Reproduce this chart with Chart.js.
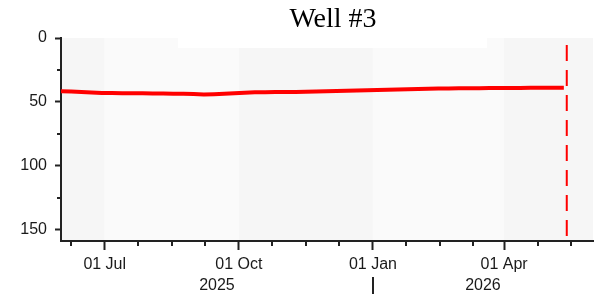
<!DOCTYPE html>
<html>
<head>
<meta charset="utf-8">
<title>Well #3</title>
<script src="https://cdn.jsdelivr.net/npm/chart.js@4.4.1/dist/chart.umd.min.js"></script>
<style>
    html, body { margin: 0; padding: 0; background: #ffffff; }
    #chartWrap { width: 604px; height: 299px; }
</style>
</head>
<body>
<div id="chartWrap"><canvas id="wellChart" width="604" height="299"></canvas></div>
<script>
// Water level readings (x = days since 01 Jun 2025, y = depth)
const sampleDays = [0, 7, 14, 21, 28, 35, 42, 49, 56, 63, 70, 77, 84, 91, 98, 105, 112,
    119, 126, 133, 140, 147, 154, 161, 168, 175, 182, 189, 196, 203, 210, 217, 224,
    231, 238, 245, 252, 259, 266, 273, 280, 287, 294, 301, 308, 315, 322, 329, 336, 343, 345];
const depthValues = [41.8, 42.0, 42.3, 42.6, 43.0, 43.0, 43.2, 43.2, 43.3, 43.4, 43.5, 43.6,
    43.7, 43.8, 44.3, 44.0, 43.6, 43.2, 42.8, 42.5, 42.4, 42.3, 42.3, 42.2, 42.1, 42.0,
    41.8, 41.6, 41.3, 41.1, 40.9, 40.7, 40.6, 40.4, 40.2, 40.0, 39.8, 39.6, 39.5, 39.4,
    39.3, 39.3, 39.2, 39.2, 39.1, 39.1, 39.0, 39.0, 39.0, 39.0, 39.0];

// Dashed "today" marker
const markerDay = 347;
const markerDepths = [5.5, 159];

// X axis ticks (days since 01 Jun 2025)
const majorTickDays = [30, 122, 214, 304];
const majorTickLabels = ['01 Jul', '01 Oct', '01 Jan', '01 Apr'];
const minorTickDays = [7, 53, 76, 99, 145, 168, 191, 237, 260, 283, 327, 350];
const yearLabels = ['2025', '2026'];
const yearBreaks = [0, 214, 365];
const quarterBreaks = [0, 30, 122, 214, 304, 365];

// Y axis ticks
const majorDepthTicks = [0, 50, 100, 150];
const minorDepthTicks = [25, 75, 125];

const chartTitle = 'Well #3';
const axisColor = '#222222';
const labelColor = '#1a1a1a';
const labelFamily = '"Liberation Sans", Arial, sans-serif';

let wellChart;

document.addEventListener('DOMContentLoaded', function() {
    initializeChart();
});

// Shaded plot background, alternating by quarter
const plotBackground = {
    id: 'plotBackground',
    beforeDraw(chart) {
        const { ctx, chartArea } = chart;
        const x = chart.scales.x;
        ctx.save();
        for (let i = 0; i < quarterBreaks.length - 1; i++) {
            const left = x.getPixelForValue(quarterBreaks[i]);
            const right = x.getPixelForValue(quarterBreaks[i + 1]);
            ctx.fillStyle = i % 2 === 0 ? '#f6f6f6' : '#fafafa';
            ctx.fillRect(left, chartArea.top, right - left, chartArea.bottom - chartArea.top);
        }
        // white box left behind the title
        ctx.fillStyle = '#ffffff';
        ctx.fillRect(178, chartArea.top, 309, 10);
        ctx.restore();
    }
};

// Title, minor tick marks and the year row under the x axis
const extraAxisMarks = {
    id: 'extraAxisMarks',
    afterDraw(chart) {
        const { ctx, chartArea } = chart;
        const x = chart.scales.x;
        const y = chart.scales.y;
        ctx.save();

        ctx.fillStyle = '#000000';
        ctx.font = '28px "Liberation Serif", "Times New Roman", serif';
        ctx.textAlign = 'center';
        ctx.textBaseline = 'alphabetic';
        ctx.fillText(chartTitle, (chartArea.left + chartArea.right) / 2 + 6, 27);

        ctx.strokeStyle = axisColor;
        ctx.lineWidth = 2;
        ctx.beginPath();
        minorTickDays.forEach(d => {
            const px = Math.round(x.getPixelForValue(d));
            ctx.moveTo(px, chartArea.bottom);
            ctx.lineTo(px, chartArea.bottom + 5);
        });
        minorDepthTicks.forEach(v => {
            const py = Math.round(y.getPixelForValue(v));
            ctx.moveTo(chartArea.left - 4, py);
            ctx.lineTo(chartArea.left, py);
        });
        // year separator
        const sep = Math.round(x.getPixelForValue(yearBreaks[1]));
        ctx.moveTo(sep, chartArea.bottom + 36);
        ctx.lineTo(sep, chartArea.bottom + 53);
        ctx.stroke();

        ctx.fillStyle = labelColor;
        ctx.font = '16px ' + labelFamily;
        ctx.textAlign = 'center';
        ctx.textBaseline = 'middle';
        yearLabels.forEach((label, i) => {
            const mid = (x.getPixelForValue(yearBreaks[i]) + x.getPixelForValue(yearBreaks[i + 1])) / 2;
            ctx.fillText(label, mid, chartArea.bottom + 45);
        });
        ctx.restore();
    }
};

function initializeChart() {
    const ctx = document.getElementById('wellChart').getContext('2d');

    wellChart = new Chart(ctx, {
        type: 'line',
        data: {
            datasets: [{
                data: sampleDays.map((d, i) => ({ x: d, y: depthValues[i] })),
                borderColor: '#ff0000',
                borderWidth: 4,
                pointRadius: 0,
                tension: 0
            }, {
                data: markerDepths.map(v => ({ x: markerDay, y: v })),
                borderColor: '#ff0000',
                borderWidth: 2,
                borderDash: [16, 9],
                pointRadius: 0
            }]
        },
        options: {
            responsive: false,
            animation: false,
            layout: {
                padding: { top: 38, right: 11, bottom: 0, left: 0 }
            },
            plugins: {
                legend: { display: false },
                tooltip: { enabled: false },
                title: { display: false }
            },
            scales: {
                x: {
                    type: 'linear',
                    min: 0,
                    max: 365,
                    afterBuildTicks: axis => {
                        axis.ticks = majorTickDays.map(v => ({ value: v }));
                    },
                    afterFit: scale => { scale.height = 58; },
                    ticks: {
                        autoSkip: false,
                        maxRotation: 0,
                        color: labelColor,
                        font: { family: labelFamily, size: 16 },
                        padding: 5,
                        callback: (value, index) => majorTickLabels[index]
                    },
                    grid: {
                        drawOnChartArea: false,
                        drawTicks: true,
                        tickLength: 9,
                        tickWidth: 2,
                        tickColor: axisColor
                    },
                    border: { display: true, color: axisColor, width: 2 }
                },
                y: {
                    reverse: true,
                    min: 0,
                    max: 159,
                    afterBuildTicks: axis => {
                        axis.ticks = majorDepthTicks.map(v => ({ value: v }));
                    },
                    afterFit: scale => { scale.width = 61; },
                    ticks: {
                        color: labelColor,
                        font: { family: labelFamily, size: 16 },
                        padding: 8
                    },
                    grid: {
                        drawOnChartArea: false,
                        drawTicks: true,
                        tickLength: 6,
                        tickWidth: 2,
                        tickColor: axisColor
                    },
                    border: { display: true, color: axisColor, width: 2 }
                }
            }
        },
        plugins: [plotBackground, extraAxisMarks]
    });
}
</script>
</body>
</html>
